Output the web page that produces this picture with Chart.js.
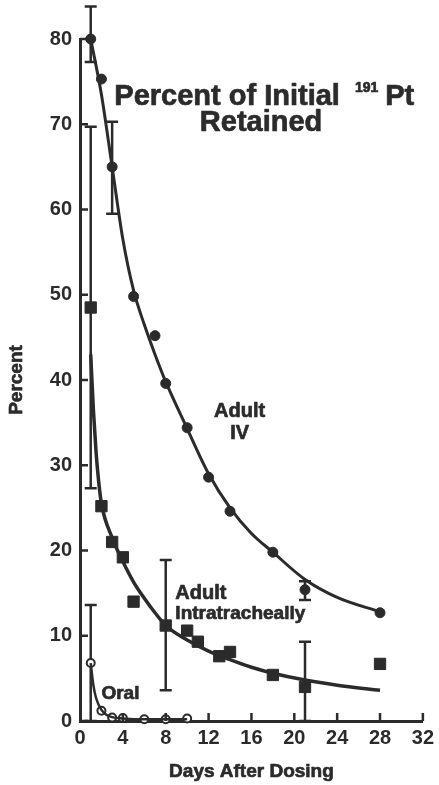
<!DOCTYPE html>
<html lang="en">
<head>
<meta charset="UTF-8">
<style>
  body { margin: 0; background: #ffffff; }
  canvas { display: block; }
</style>
<script src="https://cdn.jsdelivr.net/npm/chart.js"></script>
<title>Percent of Initial 191Pt Retained</title>
</head>
<body>
<canvas id="grafico" width="439" height="785"></canvas>
<script>
// measured points (days after dosing, percent retained)
const ivDays = [1, 2, 3, 5, 7, 8, 10, 12, 14, 18, 21, 28];
const ivValues = [80, 75.3, 65, 49.8, 45.2, 39.6, 34.4, 28.6, 24.6, 19.8, 15.4, 12.7];

const itDays = [1, 2, 3, 4, 5, 8, 10, 11, 13, 14, 18, 21, 28];
const itValues = [48.5, 25.2, 21, 19.2, 14, 11.2, 10.6, 9.3, 7.6, 8.1, 5.4, 4.0, 6.7];

const oralDays = [1, 2, 3, 4, 6, 8, 10];
const oralValues = [6.8, 1.2, 0.4, 0.35, 0.2, 0.2, 0.3];

// fitted curves
const ivCurveDays = [1, 2, 3, 4, 5, 6, 7, 8, 10, 12, 14, 16, 18, 21, 24, 28];
const ivCurveValues = [80, 73.5, 65, 56.5, 50.5, 46.5, 43, 39.8, 34.3, 29, 25, 22, 19.8, 16.6, 14.5, 12.8];

const itCurveDays = [1, 1.25, 1.5, 1.75, 2, 3, 4, 5, 6, 7, 8, 10, 12, 14, 16, 18, 21, 24, 28];
const itCurveValues = [43, 36.5, 31.5, 28, 25.5, 21.5, 18.7, 16.3, 14.4, 12.7, 11.2, 9.5, 8.2, 7.2, 6.3, 5.6, 4.8, 4.2, 3.6];

const oralCurveDays = [1, 1.25, 1.5, 2, 2.5, 3, 4, 6, 10];
const oralCurveValues = [6.8, 4.2, 2.7, 1.3, 0.7, 0.45, 0.3, 0.2, 0.2];

// error bars (day, low, high)
const errDays = [1, 3, 21, 1, 8, 21, 1];
const errLow = [77.3, 59.5, 14.2, 27.3, 3.6, 0, 0];
const errHigh = [83.8, 70.3, 16.4, 69.7, 18.9, 9.3, 13.6];

const xTicks = [0, 4, 8, 12, 16, 20, 24, 28, 32];
const yTicks = [0, 10, 20, 30, 40, 50, 60, 70, 80];

const ink = '#2b2b2b';
const fam = '"Liberation Sans", Arial, sans-serif';

function pares(xs, ys) {
    return xs.map((d, i) => ({ x: d, y: ys[i] }));
}

// text a bit heavier, like the printed figure
function escrever(ctx, t, x, y) {
    ctx.fillText(t, x, y);
    ctx.strokeText(t, x, y);
}

const barrasErro = {
    id: 'barrasErro',
    beforeDatasetsDraw(chart) {
        const sx = chart.scales.x, sy = chart.scales.y, ctx = chart.ctx;
        ctx.save();
        ctx.strokeStyle = ink;
        ctx.lineWidth = 2.5;
        for (let i = 0; i < errDays.length; i++) {
            const px = sx.getPixelForValue(errDays[i]);
            const y1 = sy.getPixelForValue(errLow[i]);
            const y2 = sy.getPixelForValue(errHigh[i]);
            ctx.beginPath();
            ctx.moveTo(px, y1); ctx.lineTo(px, y2);
            ctx.moveTo(px - 6, y1); ctx.lineTo(px + 6, y1);
            ctx.moveTo(px - 6, y2); ctx.lineTo(px + 6, y2);
            ctx.stroke();
        }
        ctx.restore();
    }
};

// ticks point inward, plus the text labels of the figure
const textos = {
    id: 'textos',
    afterDraw(chart) {
        const sx = chart.scales.x, sy = chart.scales.y, ctx = chart.ctx;
        const a = chart.chartArea;
        ctx.save();
        ctx.strokeStyle = ink;
        ctx.lineWidth = 2.5;
        ctx.beginPath();
        for (const v of yTicks) {
            const py = sy.getPixelForValue(v);
            ctx.moveTo(a.left, py); ctx.lineTo(a.left + 8, py);
        }
        for (const v of xTicks) {
            if (v === 0) continue;
            const px = sx.getPixelForValue(v);
            ctx.moveTo(px, a.bottom); ctx.lineTo(px, a.bottom - 8);
        }
        ctx.stroke();

        ctx.fillStyle = ink;
        ctx.lineWidth = 0.7;
        ctx.lineJoin = 'round';
        ctx.textBaseline = 'alphabetic';

        // title
        ctx.font = 'bold 29px ' + fam;
        ctx.textAlign = 'left';
        let tx = sx.getPixelForValue(3.2);
        const ty = sy.getPixelForValue(72.3);
        escrever(ctx, 'Percent of Initial', tx, ty);
        tx += ctx.measureText('Percent of Initial').width + 15;
        ctx.font = 'bold 14px ' + fam;
        escrever(ctx, '191', tx, ty - 13);
        tx += ctx.measureText('191').width + 7;
        ctx.font = 'bold 29px ' + fam;
        escrever(ctx, 'Pt', tx, ty);
        ctx.textAlign = 'center';
        escrever(ctx, 'Retained', sx.getPixelForValue(16.9), sy.getPixelForValue(69.2));

        // curve labels
        ctx.font = 'bold 20px ' + fam;
        escrever(ctx, 'Adult', sx.getPixelForValue(14.9), sy.getPixelForValue(35.7));
        escrever(ctx, 'IV', sx.getPixelForValue(14.9), sy.getPixelForValue(33.1));
        ctx.textAlign = 'left';
        escrever(ctx, 'Adult', sx.getPixelForValue(8.9), sy.getPixelForValue(14.3));
        ctx.font = 'bold 19px ' + fam;
        escrever(ctx, 'Intratracheally', sx.getPixelForValue(8.9), sy.getPixelForValue(12.0));
        escrever(ctx, 'Oral', sx.getPixelForValue(2.0), sy.getPixelForValue(2.6));

        // axis titles
        ctx.textAlign = 'center';
        ctx.textBaseline = 'middle';
        ctx.font = 'bold 19px ' + fam;
        escrever(ctx, 'Days After Dosing', (a.left + a.right) / 2, a.bottom + 51);
        ctx.translate(17, (a.top + a.bottom) / 2);
        ctx.rotate(-Math.PI / 2);
        escrever(ctx, 'Percent', 0, 0);
        ctx.restore();
    }
};

const ctx = document.getElementById('grafico').getContext('2d');
new Chart(ctx, {
    type: 'scatter',
    data: {
        datasets: [
            {
                data: pares(ivCurveDays, ivCurveValues),
                showLine: true, borderColor: ink, borderWidth: 3,
                pointRadius: 0, cubicInterpolationMode: 'monotone'
            },
            {
                data: pares(itCurveDays, itCurveValues),
                showLine: true, borderColor: ink, borderWidth: 3.5,
                pointRadius: 0, cubicInterpolationMode: 'monotone'
            },
            {
                data: pares(oralCurveDays, oralCurveValues),
                showLine: true, borderColor: ink, borderWidth: 2.5,
                pointRadius: 0, cubicInterpolationMode: 'monotone'
            },
            {
                data: pares(ivDays, ivValues),
                pointStyle: 'circle', pointRadius: 5,
                backgroundColor: ink, borderColor: ink, borderWidth: 1
            },
            {
                data: pares(itDays, itValues),
                pointStyle: 'rect', pointRadius: 8,
                backgroundColor: ink, borderColor: ink, borderWidth: 1
            },
            {
                data: pares(oralDays, oralValues),
                pointStyle: 'circle', pointRadius: 4,
                backgroundColor: '#ffffff', borderColor: ink, borderWidth: 2
            }
        ]
    },
    options: {
        responsive: false,
        devicePixelRatio: 1,
        animation: false,
        clip: false,
        layout: { padding: { top: 39, right: 11, left: 0, bottom: 0 } },
        plugins: { legend: { display: false }, tooltip: { enabled: false } },
        scales: {
            x: {
                type: 'linear', min: 0, max: 32,
                afterFit(s) { s.height = 64; },
                afterBuildTicks(s) { s.ticks = xTicks.map(v => ({ value: v })); },
                grid: { display: false, drawTicks: false },
                border: { display: true, color: ink, width: 3 },
                ticks: { color: ink, padding: 5, font: { family: fam, size: 20, weight: 'bold' } }
            },
            y: {
                type: 'linear', min: 0, max: 80,
                afterFit(s) { s.width = 80; },
                afterBuildTicks(s) { s.ticks = yTicks.map(v => ({ value: v })); },
                grid: { display: false, drawTicks: false },
                border: { display: true, color: ink, width: 3 },
                ticks: { color: ink, padding: 8, font: { family: fam, size: 20, weight: 'bold' } }
            }
        }
    },
    plugins: [barrasErro, textos]
});
</script>
</body>
</html>
